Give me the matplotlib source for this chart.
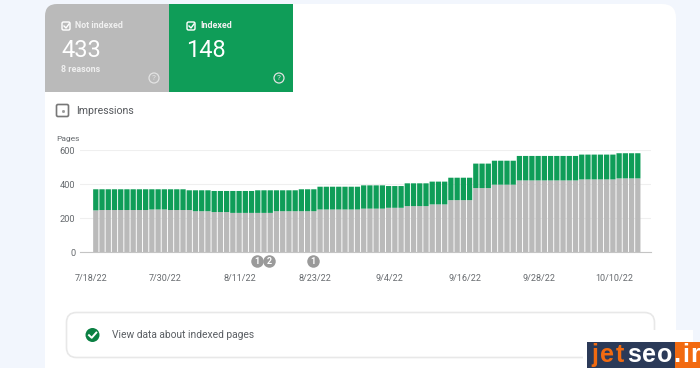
import matplotlib
matplotlib.use("Agg")
import matplotlib.pyplot as plt
from matplotlib.patches import Rectangle, FancyBboxPatch, Circle
from matplotlib.transforms import blended_transform_factory

plt.rcParams['font.family'] = ['Roboto', 'DejaVu Sans']

# values, one per day
not_indexed = [245] + [247] * 8 + [250] * 3 + [247] * 4 + [240] * 3 + [235] * 3 + [230] * 7 \
    + [240] * 7 + [250] * 7 + [255] * 4 + [260] * 3 + [270] * 4 + [280] * 3 + [305] * 4 \
    + [376] * 3 + [396] * 4 + [421] * 10 + [427] * 6 + [433] * 4
total = [369] * 15 + [363] * 4 + [359] * 7 + [363] * 7 + [369] * 3 + [384] * 7 + [392] * 4 \
    + [388] * 3 + [404] * 4 + [414] * 3 + [437] * 4 + [520] * 3 + [537] * 4 + [565] * 10 \
    + [573] * 6 + [581] * 4
indexed = [t - n for t, n in zip(total, not_indexed)]

tick_days = [0, 12, 24, 36, 48, 60, 72, 84]
tick_labels = ['7/18/22', '7/30/22', '8/11/22', '8/23/22', '9/4/22', '9/16/22', '9/28/22', '10/10/22']
y_ticks = [0, 200, 400, 600]
note_days = [25.8, 27.8, 34.8]
note_labels = ['1', '2', '1']

GREY = '#bababa'
GREEN = '#0f9d58'
TEXT = '#666a6e'

fig = plt.figure(figsize=(7, 3.68), dpi=100, facecolor='#f2f6fd')

# page furniture, drawn in pixel coordinates
ui = fig.add_axes([0, 0, 1, 1])
ui.set_xlim(0, 700)
ui.set_ylim(368, 0)
ui.axis('off')

ui.add_patch(FancyBboxPatch((45, 4), 631, 420, boxstyle='round,pad=0,rounding_size=14',
                            fc='white', ec='none'))
ui.add_patch(FancyBboxPatch((45, 4), 124, 88, boxstyle='round,pad=0,rounding_size=12',
                            fc=GREY, ec='none'))
ui.add_patch(Rectangle((100, 4), 69, 88, fc=GREY, ec='none'))
ui.add_patch(Rectangle((45, 30), 60, 62, fc=GREY, ec='none'))
ui.add_patch(Rectangle((169, 4), 124, 88, fc=GREEN, ec='none'))

for x0, label, num in [(61, 'Not indexed', '433'), (186, 'Indexed', '148')]:
    ui.add_patch(FancyBboxPatch((x0 + 1, 22), 8, 8, boxstyle='round,pad=0,rounding_size=1.5',
                                fc='none', ec='white', lw=1))
    ui.plot([x0 + 3, x0 + 5, x0 + 8], [26, 28, 24], color='white', lw=1)
    ui.text(x0 + 14, 25.5, label, color='#f0f0f0', fontsize=6.4, fontweight='bold', va='center')
    ui.text(x0, 50.5, num, color='white', fontsize=17, va='center')
    ui.add_patch(Circle((x0 + 93, 78), 5, fc='none', ec='#e3e3e3', lw=0.9))
    ui.text(x0 + 93, 78, '?', color='#e3e3e3', fontsize=6, ha='center', va='center')
ui.text(61, 70, '8 reasons', color='#efefef', fontsize=6.4, fontweight='bold', va='center')

ui.add_patch(FancyBboxPatch((56.5, 104.5), 12, 12, boxstyle='round,pad=0,rounding_size=1.5',
                            fc='white', ec='#777777', lw=1.2))
ui.plot([62.5], [110.5], marker='s', ms=1, color='#999999')
ui.text(76, 110.5, 'Impressions', color='#55585c', fontsize=7.6, va='center')
ui.text(56, 139, 'Pages', color=TEXT, fontsize=6, va='center')

ui.add_patch(FancyBboxPatch((66.5, 312.5), 588, 45, boxstyle='round,pad=0,rounding_size=10',
                            fc='white', ec='#e8e8e8', lw=1.2))
ui.add_patch(Circle((92.5, 335), 7, fc='#0b8043', ec='none'))
ui.plot([89, 91.7, 96.3], [335.2, 337.8, 332.6], color='white', lw=1.4)
ui.text(112, 335, 'View data about indexed pages', color='#5a5e63', fontsize=7.4, va='center')

# watermark
ui.add_patch(Rectangle((583, 330), 110, 38, fc='white', ec='none'))
ui.add_patch(Rectangle((587, 342), 88, 26, fc='#2b3a58', ec='none'))
ui.add_patch(Rectangle((675, 342), 25, 26, fc='#f26a10', ec='none'))
for x, s, c in [(591, 'j', '#f26a10'), (600, 'e', '#f26a10'), (616, 't', '#f26a10'),
                (627, 's', 'white'), (642, 'e', 'white'), (657, 'o', 'white'),
                (673, '.', 'white'), (682, 'i', 'white'), (690, 'r', 'white')]:
    ui.text(x, 355, s, color=c, fontsize=18, fontweight='bold', family='Liberation Sans', va='center')

# chart: one bar per day, bar i centred at 95.8 + 6.23 * i px
ax = fig.add_axes([80 / 700, 1 - 252 / 368, 571 / 700, 102 / 368])
ax.patch.set_alpha(0)
days = list(range(len(total)))
ax.bar(days, not_indexed, width=0.85, color=GREY, snap=False)
ax.bar(days, indexed, width=0.85, bottom=not_indexed, color=GREEN, snap=False)
ax.set_xlim((80 - 95.8) / 6.23, (651 - 95.8) / 6.23)
ax.set_ylim(0, 600)
ax.set_yticks(y_ticks)
ax.set_xticks([d - 0.8 for d in tick_days], tick_labels)
ax.tick_params(axis='y', length=0, pad=3.5, labelsize=6.7, labelcolor=TEXT)
ax.tick_params(axis='x', length=0, pad=16, labelsize=6.5, labelcolor=TEXT)
ax.grid(axis='y', color='#efefef', lw=0.8)
ax.set_axisbelow(True)
for side in ['top', 'right', 'left']:
    ax.spines[side].set_visible(False)
ax.spines['bottom'].set_color('#c4c4c4')

trans = blended_transform_factory(ax.transData, ui.transData)
for d, s in zip(note_days, note_labels):
    ax.plot([d], [261], marker='o', ms=9, color='#9a9a9a', mew=0, transform=trans, clip_on=False)
    ax.text(d, 261, s, color='white', fontsize=6.5, fontweight='bold', ha='center', va='center',
            transform=trans)

fig.savefig('out.png', dpi=100, facecolor=fig.get_facecolor())
